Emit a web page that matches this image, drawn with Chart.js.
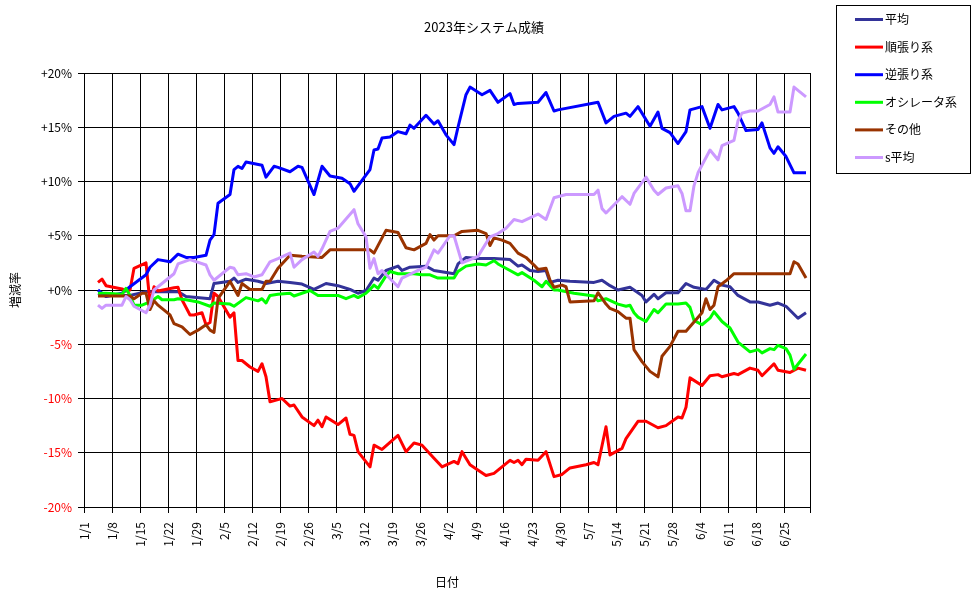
<!DOCTYPE html>
<html>
<head>
<meta charset="utf-8">
<title>2023年システム成績</title>
<script src="https://cdn.jsdelivr.net/npm/chart.js@4.4.1/dist/chart.umd.min.js"></script>
<style>
    body { margin: 0; background: #fff; }
    #wrap { width: 976px; height: 599px; }
</style>
</head>
<body>
<div id="wrap"><canvas id="seiseki"></canvas></div>
<script>
// [日数(1/1からの経過日), 増減率%]
const heikin = [[3,-0.3],[5,-0.5],[9,-0.5],[11,-0.5],[15,-0.15],[23,-0.15],[25,-0.6],[31,-0.8],[32,0.6],[36,0.8],[37,1.1],[38,0.7],[40,1.0],[43,0.8],[45,0.6],[48,0.8],[51,0.7],[54,0.55],[57,0.05],[60,0.6],[63,0.4],[66,0.05],[68,-0.3],[70,-0.05],[72,1.1],[73,0.9],[75,1.8],[78,2.2],[79,1.8],[81,2.1],[85,2.2],[87,1.8],[92,1.5],[93,2.4],[95,3.0],[98,2.9],[102,2.9],[106,2.8],[108,2.2],[109,2.3],[111,1.8],[113,1.7],[115,1.8],[116,0.7],[118,0.9],[121,0.8],[127,0.7],[129,0.9],[131,0.4],[133,0.0],[136,0.25],[139,-0.5],[140,-1.1],[142,-0.4],[143,-0.8],[145,-0.25],[148,-0.25],[150,0.6],[152,0.25],[155,0.05],[157,0.9],[159,0.45],[161,0.3],[163,-0.5],[166,-1.1],[168,-1.1],[171,-1.4],[173,-1.2],[175,-1.5],[178,-2.6],[180,-2.1]];
const junbari = [[3,0.7],[4,1.0],[5,0.4],[9,0.1],[10,-0.1],[11,0.0],[12,2.0],[15,2.5],[16,-1.2],[17,0.3],[18,-0.1],[22,0.2],[23,0.25],[24,-0.9],[26,-2.3],[27,-2.3],[29,-2.1],[30,-3.2],[31,-3.0],[32,-0.3],[33,-0.6],[36,-2.5],[37,-2.1],[38,-6.5],[39,-6.5],[41,-7.1],[43,-7.5],[44,-6.8],[45,-8.0],[46,-10.3],[48,-10.1],[49,-10.0],[51,-10.7],[52,-10.6],[54,-11.7],[57,-12.5],[58,-12.0],[59,-12.6],[60,-11.7],[63,-12.4],[65,-11.8],[66,-13.3],[67,-13.4],[68,-14.9],[71,-16.3],[72,-14.3],[74,-14.7],[78,-13.4],[80,-14.9],[82,-14.1],[84,-14.3],[87,-15.5],[89,-16.3],[92,-15.8],[93,-16.0],[94,-14.9],[96,-16.1],[100,-17.1],[102,-16.9],[106,-15.7],[107,-15.9],[108,-15.7],[109,-16.1],[110,-15.6],[113,-15.7],[115,-14.9],[117,-17.2],[119,-17.0],[121,-16.4],[125,-16.1],[127,-15.9],[128,-16.1],[130,-12.6],[131,-15.2],[134,-14.6],[135,-13.7],[138,-12.1],[140,-12.1],[143,-12.7],[145,-12.5],[148,-11.7],[149,-11.8],[150,-10.8],[151,-8.1],[154,-8.8],[156,-7.9],[158,-7.8],[159,-8.0],[162,-7.7],[163,-7.8],[166,-7.2],[168,-7.4],[169,-7.9],[172,-6.8],[173,-7.4],[176,-7.6],[178,-7.2],[180,-7.4]];
const gyakubari = [[3,0.0],[5,-0.6],[9,-0.3],[11,0.3],[15,1.4],[16,2.1],[18,2.8],[21,2.6],[23,3.3],[25,3.0],[27,3.0],[30,3.2],[31,4.6],[32,5.1],[33,8.0],[36,8.8],[37,11.1],[38,11.4],[39,11.2],[40,11.8],[44,11.5],[45,10.4],[47,11.4],[48,11.3],[51,10.9],[53,11.4],[54,11.3],[57,8.8],[59,11.4],[61,10.5],[64,10.3],[66,9.8],[67,9.1],[69,10.1],[71,11.1],[72,12.9],[73,13.0],[74,14.0],[76,14.1],[78,14.6],[80,14.4],[81,15.2],[82,14.9],[85,16.1],[87,15.3],[88,15.6],[90,14.3],[92,13.4],[93,15.0],[95,18.0],[96,18.7],[99,18.0],[101,18.4],[103,17.3],[106,18.1],[107,17.1],[108,17.2],[113,17.3],[115,18.2],[117,16.5],[118,16.6],[128,17.3],[130,15.4],[132,16.0],[135,16.3],[136,16.0],[138,16.9],[141,15.1],[143,16.4],[144,14.9],[146,14.5],[148,13.5],[150,14.6],[151,16.6],[154,16.9],[156,14.9],[158,17.1],[159,16.6],[162,16.9],[163,16.3],[165,14.7],[168,14.8],[169,15.4],[171,13.1],[172,12.6],[173,13.2],[175,12.3],[177,10.8],[180,10.8]];
const oscillator = [[3,-0.3],[5,-0.3],[9,-0.4],[10,0.15],[11,-0.5],[12,-1.4],[14,-1.4],[16,-1.1],[18,-0.6],[19,-0.9],[22,-0.9],[23,-0.8],[25,-0.9],[28,-1.1],[31,-1.5],[32,-1.2],[36,-1.3],[37,-1.5],[40,-0.7],[43,-1.0],[44,-0.8],[45,-1.2],[46,-0.5],[48,-0.4],[51,-0.3],[52,-0.55],[56,-0.05],[58,-0.5],[63,-0.5],[65,-0.8],[67,-0.5],[68,-0.7],[70,-0.3],[71,0.05],[72,0.45],[73,0.15],[75,1.3],[76,1.7],[78,1.5],[80,1.5],[82,1.5],[84,1.4],[86,1.4],[88,1.1],[92,1.1],[93,1.7],[95,2.2],[98,2.4],[100,2.3],[102,2.7],[103,2.4],[106,1.8],[108,1.4],[109,1.6],[112,0.9],[114,0.3],[115,0.8],[117,0.0],[118,0.0],[122,-0.3],[127,-0.55],[128,-1.0],[130,-0.8],[133,-1.3],[135,-1.5],[136,-1.4],[137,-2.1],[138,-2.5],[140,-2.9],[142,-1.8],[143,-2.1],[145,-1.3],[148,-1.3],[150,-1.2],[151,-1.6],[152,-2.8],[154,-3.2],[156,-2.6],[157,-2.0],[159,-2.9],[161,-3.5],[163,-4.8],[166,-5.7],[168,-5.5],[169,-5.8],[171,-5.4],[172,-5.5],[173,-5.1],[175,-5.4],[176,-6.0],[177,-7.3],[180,-5.9]];
const sonota = [[3,-0.55],[11,-0.55],[12,-0.8],[14,-0.3],[15,-0.3],[16,-1.8],[17,-1.0],[18,-1.4],[21,-2.3],[22,-3.1],[24,-3.4],[26,-4.1],[28,-3.7],[30,-3.2],[31,-3.7],[32,-3.9],[33,-0.8],[36,0.8],[38,-0.5],[39,0.6],[41,0.05],[44,0.05],[45,0.8],[46,0.8],[48,2.0],[51,3.2],[54,3.1],[59,3.0],[61,3.7],[71,3.7],[72,3.4],[75,5.5],[78,5.3],[80,3.9],[82,3.7],[85,4.3],[86,5.1],[87,4.6],[88,5.0],[92,5.0],[94,5.4],[98,5.5],[100,5.2],[101,4.1],[102,4.8],[104,4.6],[106,4.3],[108,3.4],[110,3.0],[112,2.3],[113,1.9],[115,2.0],[116,0.9],[117,0.25],[119,0.45],[120,0.3],[121,-1.1],[127,-1.0],[128,-0.25],[130,-1.3],[131,-1.7],[133,-2.0],[135,-2.6],[136,-2.6],[137,-5.5],[139,-6.6],[141,-7.5],[143,-8.0],[144,-6.1],[146,-5.2],[148,-3.8],[150,-3.8],[154,-2.1],[155,-0.8],[156,-1.8],[157,-1.4],[158,0.3],[160,0.85],[162,1.5],[176,1.5],[177,2.6],[178,2.4],[180,1.1]];
const sHeikin = [[3,-1.4],[4,-1.7],[5,-1.4],[9,-1.4],[10,-0.6],[11,-0.9],[12,-1.5],[15,-2.1],[16,-1.4],[17,0.0],[18,0.3],[20,0.9],[22,1.5],[23,2.4],[26,2.8],[30,2.3],[31,1.4],[32,0.9],[36,2.1],[37,2.0],[38,1.4],[40,1.5],[42,1.2],[44,1.4],[46,2.6],[48,2.9],[51,3.4],[52,2.1],[54,2.8],[57,3.5],[58,3.1],[59,3.8],[61,5.4],[63,5.7],[67,7.4],[68,6.1],[70,4.9],[71,2.0],[72,2.9],[73,1.5],[74,1.8],[78,0.3],[79,1.1],[83,1.8],[85,2.1],[87,3.7],[88,3.4],[91,5.0],[92,5.0],[94,2.5],[98,3.1],[101,4.9],[103,5.2],[105,5.7],[107,6.5],[109,6.3],[113,7.0],[115,6.5],[117,8.5],[120,8.8],[127,8.8],[128,9.2],[129,7.5],[130,7.1],[134,8.6],[136,7.9],[137,8.9],[140,10.4],[142,9.2],[143,8.8],[145,9.4],[148,9.6],[149,8.9],[150,7.3],[151,7.3],[152,9.6],[153,10.8],[156,12.9],[158,12.0],[159,13.3],[162,13.8],[163,15.6],[164,16.3],[166,16.5],[168,16.5],[171,17.1],[172,17.8],[173,16.4],[176,16.4],[177,18.7],[180,17.8]];

const seriesNames = ['平均', '順張り系', '逆張り系', 'オシレータ系', 'その他', 's平均'];
const seriesColors = ['#333399', '#FF0000', '#0000FF', '#00FF00', '#993300', '#CC99FF'];
const weekLabels = ['1/1','1/8','1/15','1/22','1/29','2/5','2/12','2/19','2/26','3/5','3/12','3/19','3/26','4/2','4/9','4/16','4/23','4/30','5/7','5/14','5/21','5/28','6/4','6/11','6/18','6/25'];
const chartTitle = '2023年システム成績';

const FONT = "'Noto Sans CJK JP', 'Noto Sans', sans-serif";
const allSeries = [heikin, junbari, gyakubari, oscillator, sonota, sHeikin];

// タイトルと右側の凡例（枠付き）
const boxLegend = {
    id: 'boxLegend',
    afterDraw(chart) {
        const ctx = chart.ctx;
        ctx.save();
        ctx.fillStyle = '#000';
        ctx.font = '13px ' + FONT;
        ctx.textAlign = 'center';
        ctx.textBaseline = 'middle';
        ctx.fillText(chartTitle, 484, 27);

        ctx.textAlign = 'left';
        ctx.strokeStyle = '#000';
        ctx.lineWidth = 1;
        ctx.strokeRect(836.5, 5.5, 134, 168);
        ctx.font = '12px ' + FONT;
        seriesNames.forEach((name, i) => {
            const y = 19.5 + i * 27.6;
            ctx.strokeStyle = seriesColors[i];
            ctx.lineWidth = 3;
            ctx.beginPath();
            ctx.moveTo(855, y);
            ctx.lineTo(883, y);
            ctx.stroke();
            ctx.fillStyle = '#000';
            ctx.fillText(name, 885, y);
        });
        ctx.restore();
    }
};

new Chart(document.getElementById('seiseki'), {
    type: 'line',
    data: {
        datasets: allSeries.map((s, i) => ({
            label: seriesNames[i],
            data: s.map(([d, v]) => ({ x: d + 0.5, y: v })),
            borderColor: seriesColors[i],
            backgroundColor: seriesColors[i],
            borderWidth: 3,
            borderJoinStyle: 'round',
            pointRadius: 0,
            tension: 0,
            order: allSeries.length - i
        }))
    },
    options: {
        responsive: true,
        maintainAspectRatio: false,
        animation: false,
        layout: { padding: { left: 0, right: 166, top: 73, bottom: 0 } },
        plugins: {
            legend: { display: false },
            tooltip: { enabled: false },
            title: { display: false }
        },
        scales: {
            x: {
                type: 'linear',
                min: 0,
                max: 181.5,
                afterFit: (scale) => { scale.height = 92; },
                ticks: {
                    stepSize: 7,
                    autoSkip: false,
                    minRotation: 90,
                    maxRotation: 90,
                    padding: 9,
                    color: '#000',
                    font: { family: FONT, size: 12 },
                    callback: (v) => (v % 7 === 0 ? weekLabels[v / 7] : '')
                },
                grid: { color: '#000', tickColor: '#000', tickLength: 6 },
                border: { color: '#000' },
                title: {
                    display: true,
                    text: '日付',
                    color: '#000',
                    font: { family: FONT, size: 12 },
                    padding: { top: 9, bottom: 9 }
                }
            },
            y: {
                min: -20,
                max: 20,
                afterFit: (scale) => { scale.width = 84; },
                ticks: {
                    stepSize: 5,
                    padding: 6,
                    font: { family: FONT, size: 12 },
                    color: (c) => (c.tick.value < 0 ? '#FF0000' : '#000'),
                    callback: (v) => (v >= 0 ? '+' + v + '%' : v + '%')
                },
                grid: { color: '#000', tickColor: '#000', tickLength: 6 },
                border: { color: '#000' },
                title: {
                    display: true,
                    text: '増減率',
                    color: '#000',
                    font: { family: FONT, size: 12 },
                    padding: { top: 8, bottom: 0 }
                }
            }
        }
    },
    plugins: [boxLegend]
});
</script>
</body>
</html>
